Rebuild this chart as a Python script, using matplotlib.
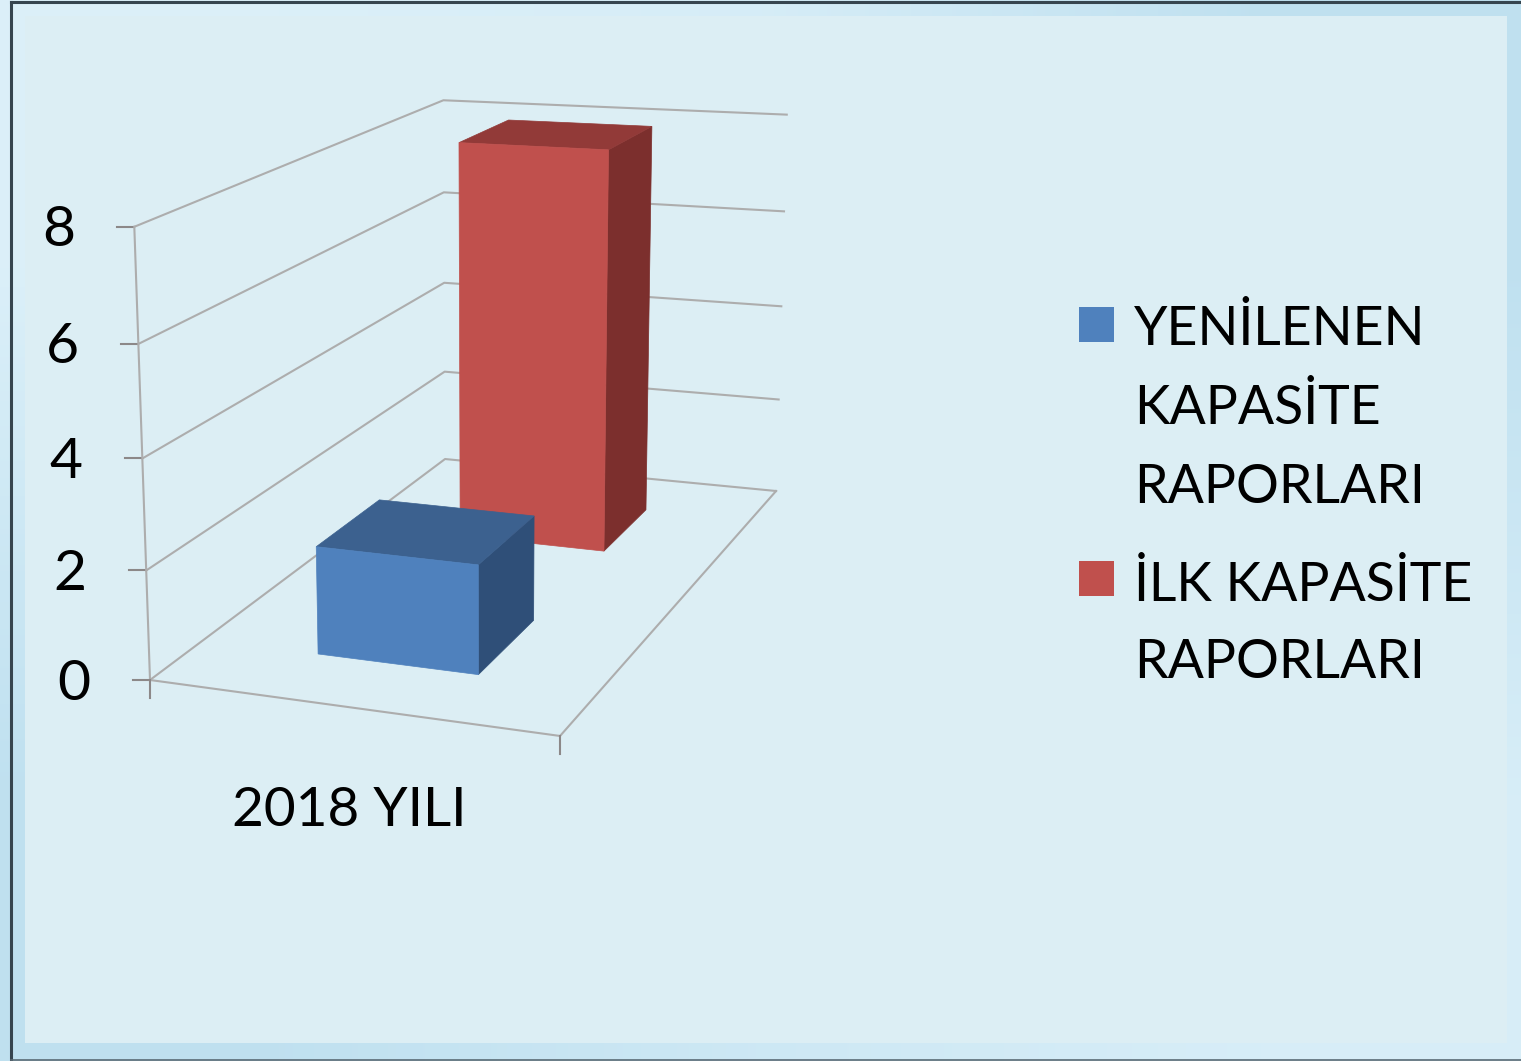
import numpy as np
import matplotlib
matplotlib.use('Agg')
import matplotlib.pyplot as plt
from matplotlib.patches import Polygon, Rectangle

plt.rcParams['font.family'] = ['Lato', 'DejaVu Sans']

# Chart data
categories = ['2018 YILI']
series_names = ['YENİLENEN\nKAPASİTE\nRAPORLARI', 'İLK KAPASİTE\nRAPORLARI']
series_values = [2, 8]
y_ticks = [0, 2, 4, 6, 8]

front_colors = ['#4f81bd', '#c0504d']
top_colors = ['#3c618f', '#923a38']
side_colors = ['#2f4f78', '#7c2f2d']

# projective camera: (u across, v depth, z value) -> picture pixels
cam = np.array([[375.6, 419.1, -2.7, 150.0],
                [10.7, -93.0, -57.9, 680.0],
                [-0.0615, 0.2788, -0.0055, 1.0]])


def proj(u, v, z):
    x, y, w = cam @ np.array([u, v, z, 1.0])
    return x / w, y / w


def box_faces(v0, v1, val, u0=0.30, u1=0.705):
    top = [proj(u0, v0, val), proj(u1, v0, val), proj(u1, v1, val), proj(u0, v1, val)]
    front = [proj(u0, v0, 0), proj(u1, v0, 0), proj(u1, v0, val), proj(u0, v0, val)]
    side = [proj(u1, v0, 0), proj(u1, v1, 0), proj(u1, v1, val), proj(u1, v0, val)]
    return front, top, side


fig = plt.figure(figsize=(15.21, 10.61), dpi=100)
ax = fig.add_axes([0, 0, 1, 1])
ax.set_xlim(0, 1521)
ax.set_ylim(1061, 0)
ax.axis('off')

# slide background, light top left and bottom right
grad = np.array([[1.0, 0.8, 0.0], [0.0, 0.5, 0.85]])
base = np.array([0.75, 0.88, 0.94])
light = np.array([0.86, 0.94, 0.976])
img = base + (light - base) * grad[:, :, None]
ax.imshow(img, extent=[0, 1521, 1061, 0], aspect='auto', interpolation='bilinear', zorder=0)
ax.set_xlim(0, 1521)
ax.set_ylim(1061, 0)
ax.add_patch(Rectangle((25, 16), 1482, 1027, color='#dceef4', lw=0, zorder=1))
ax.plot([11, 11], [2, 1061], color='#36454f', lw=2.2, zorder=2)
ax.plot([11, 1521], [2, 2], color='#36454f', lw=2.2, zorder=2)
ax.plot([11, 1521], [1060, 1060], color='#5a6b75', lw=1.2, zorder=2)

# walls and floor
grid_c = '#adadad'
for t in y_ticks:
    pts = [proj(0, 0, t), proj(0, 1, t), proj(1, 1, t)]
    ax.plot(*zip(*pts), color=grid_c, lw=1.5, zorder=3)
    fx, fy = proj(0, 0, t)
    ax.plot([fx - 17, fx], [fy, fy], color='#8c8888', lw=1.5, zorder=3)
    ax.text(fx - 76, fy + 4, str(t), fontsize=41, ha='center', va='center', color='black', zorder=6)
ax.plot(*zip(proj(0, 0, 0), proj(0, 0, y_ticks[-1])), color=grid_c, lw=1.5, zorder=3)
ax.plot(*zip(proj(0, 0, 0), proj(1, 0, 0), proj(1, 1, 0)), color=grid_c, lw=1.5, zorder=3)
for u in [0, 1]:
    fx, fy = proj(u, 0, 0)
    ax.plot([fx, fx], [fy, fy + 18], color='#8c8888', lw=1.5, zorder=3)

ax.text(349, 826, categories[0], fontsize=39.5, ha='center', va='baseline', color='black', zorder=6)

# bars, back one first
depths = [(0.15, 0.354), (0.65, 0.85)]
for i in [1, 0]:
    front, top, side = box_faces(depths[i][0], depths[i][1], series_values[i])
    ax.add_patch(Polygon(side, closed=True, fc=side_colors[i], ec=side_colors[i], lw=0.5, zorder=4 + 0.1 * (1 - i)))
    ax.add_patch(Polygon(top, closed=True, fc=top_colors[i], ec=top_colors[i], lw=0.5, zorder=4 + 0.1 * (1 - i)))
    ax.add_patch(Polygon(front, closed=True, fc=front_colors[i], ec=front_colors[i], lw=0.5, zorder=4 + 0.1 * (1 - i)))

# legend
leg_y = [325, 579]
leg_base = [345, 601]
leg_step = [79, 77.5]
for i in range(2):
    ax.add_patch(Rectangle((1079, leg_y[i] - 18), 35, 35, color=front_colors[i], lw=0, zorder=5))
    for j, line in enumerate(series_names[i].split('\n')):
        ax.text(1134, leg_base[i] + j * leg_step[i], line, fontsize=38.6, ha='left', va='baseline', color='black', zorder=6)

fig.savefig('out.png', dpi=100)
